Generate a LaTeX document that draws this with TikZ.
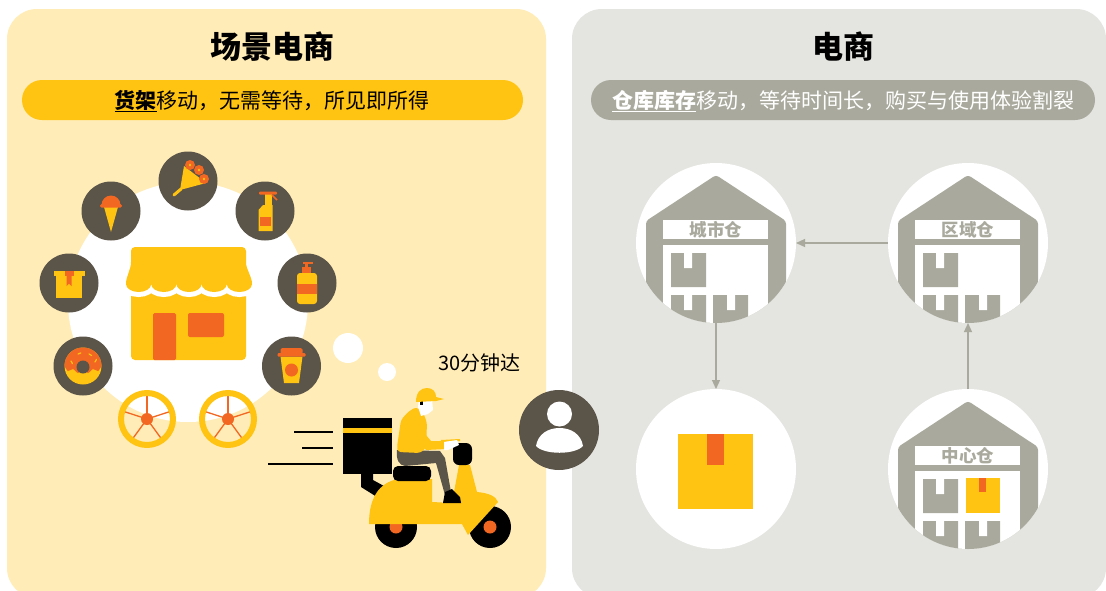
\documentclass[tikz,border=0pt]{standalone}
\usepackage{fontspec}
\setmainfont{Noto Sans CJK SC}
\usetikzlibrary{arrows.meta,positioning}
\definecolor{Cream}{HTML}{FFECB6}
\definecolor{Amber}{HTML}{FFC312}
\definecolor{Tangerine}{HTML}{F26722}
\definecolor{Dark}{HTML}{5B5449}
\definecolor{Mist}{HTML}{E4E4E0}
\definecolor{Ware}{HTML}{A9A99D}

\tikzset{
  warehouse/.pic={
    \begin{scope}
      \clip (0,0) circle[radius=80];
      \fill[Ware,rounded corners=3pt] (-70,95) -- (-70,-22) -- (0,-68) -- (70,-22) -- (70,95) -- cycle;
      \fill[white] (-53,-23) rectangle (52,-4);
      \fill[white] (-53,2) rectangle (52,95);
      \fill[Ware] (-45,10) rectangle (-10,44) (-45,52) rectangle (-10,95) (-3,52) rectangle (32,95);
      \fill[white] (-32,10) rectangle (-24,25) (-32,52) rectangle (-24,67) (11,52) rectangle (19,67);
    \end{scope}
    \node[tagtext] (-label) at (0,-13.5) {\tikzpictext};
  }
}

\begin{document}
\begin{tikzpicture}[x=1pt,y=-1pt,
  panel/.style={rounded corners=30pt},
  pill/.style={rounded corners=20pt},
  icon/.style={circle,fill=Dark,minimum size=59pt,inner sep=0pt},
  store/.style={circle,fill=white,minimum size=160pt,inner sep=0pt,outer sep=0pt},
  flow/.style={draw=Ware,line width=1.2pt,-{Triangle[length=9pt,width=8pt]}},
  tagtext/.style={text=Ware,font=\fontsize{17.5pt}{20pt}\selectfont\bfseries,inner sep=0pt},
  headline/.style={font=\fontsize{31pt}{36pt}\selectfont\bfseries,anchor=base,inner sep=0pt},
  slogan/.style={font=\fontsize{21pt}{25pt}\selectfont,anchor=base,inner sep=0pt}]
  \useasboundingbox (0,0) rectangle (1106,590);
  \fill[white] (0,0) rectangle (1106,590);
  \fill[Cream,panel] (7,9) rectangle (546,598);
  \fill[Mist,panel] (572,9) rectangle (1106,598);

  % headers
  \node[headline] (scenetitle) at (272,58) {场景电商};
  \fill[Amber,pill] (22,80) rectangle (523,120);
  \node[slogan] (scenenote) at (272,108) {\underline{\textbf{货架}}移动，无需等待，所见即所得};
  \node[headline] (shoptitle) at (843,58) {电商};
  \fill[Ware,pill] (591,80) rectangle (1095,120);
  \node[slogan,text=white] (shopnote) at (843,108) {\underline{\textbf{仓库库存}}移动，等待时间长，购买与使用体验割裂};

  % store with goods around it
  \fill[white] (188,302) circle[radius=120];
  \node[icon] (bouquet) at (188,181) {};
  \node[icon] (icecream) at (111,211) {};
  \node[icon] (spray) at (265,211) {};
  \node[icon] (parcelbox) at (69,283) {};
  \node[icon] (soap) at (307,283) {};
  \node[icon] (donut) at (83,366) {};
  \node[icon] (coffee) at (291.5,366) {};

  \begin{scope}[shift={(bouquet)}]
    \draw[Amber,line width=3pt,line cap=round] (-14,14) -- (-7,8);
    \fill[Amber] (-8,9) -- (-4,-15) -- (18,2) -- cycle;
    \foreach \p in {(2,-16),(11,-11),(16,-2)}{
      \fill[Tangerine] \p circle[radius=5];
      \fill[Amber] \p circle[radius=1.4];
    }
  \end{scope}
  \begin{scope}[shift={(icecream)}]
    \fill[Amber] (-7,-4) -- (7,-4) -- (0,21) -- cycle;
    \fill[Tangerine] (-9.5,-6) arc[start angle=180,end angle=360,radius=9.5] -- cycle;
    \fill[Tangerine,rounded corners=1.5pt] (-11,-7) rectangle (11,-3.5);
  \end{scope}
  \begin{scope}[shift={(spray)}]
    \fill[Amber] (0,-17) rectangle (6.5,-6);
    \fill[Amber] (-6.5,20) -- (-6.5,-1) -- (-2,-6) -- (7.5,-6) -- (7.5,20) -- cycle;
    \fill[Tangerine] (-5.5,6) rectangle (5.5,15);
    \fill[Tangerine,rounded corners=1pt] (-6,-19.5) rectangle (12,-16.5);
    \draw[Tangerine,line width=1.5pt] (7,-16) -- (12,-11);
  \end{scope}
  \begin{scope}[shift={(soap)}]
    \fill[Tangerine] (-4,-21) rectangle (6,-19);
    \fill[Tangerine] (-2,-19) rectangle (1,-15);
    \fill[Tangerine] (-5,-16) rectangle (4,-9);
    \fill[Amber,rounded corners=3pt] (-10,-10) rectangle (10,21);
    \fill[Tangerine] (-10,1) rectangle (10,11);
  \end{scope}
  \begin{scope}[shift={(parcelbox)}]
    \fill[Amber] (-13,-7) rectangle (13,15);
    \fill[Amber] (-15.5,-12) rectangle (15.5,-7);
    \fill[Tangerine] (-4.5,-12) rectangle (4.5,-7);
    \fill[Tangerine] (-2.5,-7) -- (2.5,-7) -- (2.5,3) -- (0,0.5) -- (-2.5,3) -- cycle;
  \end{scope}
  \begin{scope}[shift={(donut)}]
    \fill[Amber] (0,0) circle[radius=18.5];
    \fill[Tangerine] (-18.5,0) arc[start angle=180,end angle=360,radius=18.5]
      -- plot[smooth] coordinates {(18.5,0) (15,5) (10,3) (5,7) (0,4) (-5,7) (-10,3) (-15,5) (-18.5,0)} -- cycle;
    \fill[Dark] (0,1) circle[radius=6.5];
    \foreach \x/\y/\a in {-12/-5/60,-5/-12/-20,6/-12/30,12/-4/-60}
      \draw[Amber,line width=1.2pt,line cap=round] (\x,\y) -- ++(\a:3);
  \end{scope}
  \begin{scope}[shift={(coffee)}]
    \fill[Amber] (-11,-9.5) -- (11,-9.5) -- (7.5,17) -- (-7.5,17) -- cycle;
    \fill[Tangerine,rounded corners=1.5pt] (-11,-18) rectangle (11,-12);
    \fill[Tangerine,rounded corners=1pt] (-14,-13) rectangle (14,-9.5);
    \fill[Tangerine] (0,4) circle[radius=6.5];
  \end{scope}

  % shop front
  \fill[Amber,rounded corners=4pt] (131,278) rectangle (246,360);
  \fill[Tangerine,rounded corners=1.5pt] (153,313) rectangle (176,360);
  \fill[Tangerine,rounded corners=2pt] (188,313) rectangle (224,337);
  \fill[Amber,preaction={draw=white,line width=10pt}] (126,284) .. controls (126,276) and (131,270) .. (131,262)
    [rounded corners=4pt] -- (131,247) -- (246,247) [sharp corners] -- (246,262)
    .. controls (246,270) and (252,276) .. (252,284)
    \foreach \i in {1,...,5}{ arc[start angle=0,end angle=180,x radius=12.6,y radius=8] } -- cycle;
  \foreach \c in {(147,419),(228,419)}{
    \foreach \a in {270,342,54,126,198}
      \draw[Tangerine,line width=1.3pt] \c -- ++(\a:24);
    \draw[Amber,line width=6pt] \c circle[radius=26];
    \fill[Tangerine] \c circle[radius=6];
  }

  % rider on the scooter
  \fill[white] (348,348) circle[radius=15];
  \fill[white] (387,372) circle[radius=9];
  \node[font=\fontsize{20pt}{24pt}\selectfont,anchor=base,inner sep=0pt] (eta) at (479.5,370) {30分钟达};
  \draw[line width=1.8pt] (294,432) -- (333,432);
  \draw[line width=1.8pt] (302,448) -- (333,448);
  \draw[line width=1.8pt] (268,464) -- (333,464);
  \fill (361,474) -- (373,474) -- (373,480) -- (384,486) -- (377,497) -- (361,487) -- cycle;
  \fill (343,418) rectangle (392,474);
  \fill[Amber] (343,428) rectangle (392,433);
  \fill (396,527) circle[radius=21];
  \fill[Tangerine] (396,527) circle[radius=6.5];
  \fill (490,527) circle[radius=21];
  \fill[Tangerine] (490,527) circle[radius=6.5];
  \fill[Amber] (369,524) .. controls (369,499) and (378,483) .. (398,479) -- (432,479) -- (432,502)
    -- (452,503) -- (459,465) -- (470,465) -- (477,492) .. controls (488,493) and (496,496) .. (498,502)
    -- (468,535) -- (462,524) -- cycle;
  \fill[rounded corners=5pt] (393,466) rectangle (431,481);
  \fill[rounded corners=6pt] (453,443) rectangle (472,465);
  \fill[Dark] (397,450) -- (440,451) -- (445,458) -- (451,492) -- (445,495) -- (436,463) -- (405,466)
    .. controls (399,465) and (396,460) .. cycle;
  \fill (445,492) -- (452,489) -- (460,497) -- (461,503) -- (443,503) -- cycle;
  \fill[Amber,rounded corners=3pt] (408,412) -- (416,407) -- (423,412) -- (427,423) -- (426,448)
    -- (420,453) -- (398,452) -- (397,447) -- (401,420) -- cycle;
  \fill[Amber] (412,432) -- (421,429) -- (431,441) -- (446,441) -- (446,449) -- (426,450) -- cycle;
  \draw[Amber,line width=2pt] (441,441) -- (460,440);
  \fill[white] (444,442) -- (457,440) -- (459,445) -- (448,450) -- (444,450) -- cycle;
  \fill[white] (419,399) -- (432,399) -- (433,410) -- (428,414) -- (421,416) -- (418,407) -- cycle;
  \fill (420,401) rectangle (423,405);
  \fill[Amber] (416,402) .. controls (416,392) and (421,388) .. (427,388) .. controls (433,388) and (436,392) .. (436,397)
    -- (444,399) -- (436,401) -- cycle;

  % customer
  \node[circle,fill=Dark,minimum size=80pt,inner sep=0pt] (user) at (559,430) {};
  \fill[white] (559.5,414) circle[radius=12.5];
  \fill[white] (536,446) .. controls (538,434) and (548,428) .. (559.5,428) .. controls (571,428) and (581,434) .. (583,446)
    .. controls (575,455) and (544,455) .. cycle;

  % warehouse chain
  \node[store] (city) at (716,243) {};
  \node[store] (region) at (968,243) {};
  \node[store] (parcel) at (716,469) {};
  \node[store] (central) at (968,469) {};
  \pic[pic text=城市仓] (citywh) at (city) {warehouse};
  \pic[pic text=区域仓] (regionwh) at (region) {warehouse};
  \pic[pic text=中心仓] (centralwh) at (central) {warehouse};
  \begin{scope}[shift={(central)}]
    \fill[Amber] (-2.5,9) rectangle (32,44);
    \fill[Tangerine] (11,9) rectangle (18,23);
  \end{scope}
  \begin{scope}[shift={(parcel)}]
    \fill[Amber] (-38,-35) rectangle (37,40);
    \fill[Tangerine] (-9,-35) rectangle (8,-4);
  \end{scope}
  \draw[flow] (region) -- (city);
  \draw[flow] (city) -- (parcel);
  \draw[flow] (central) -- (region);
\end{tikzpicture}
\end{document}
